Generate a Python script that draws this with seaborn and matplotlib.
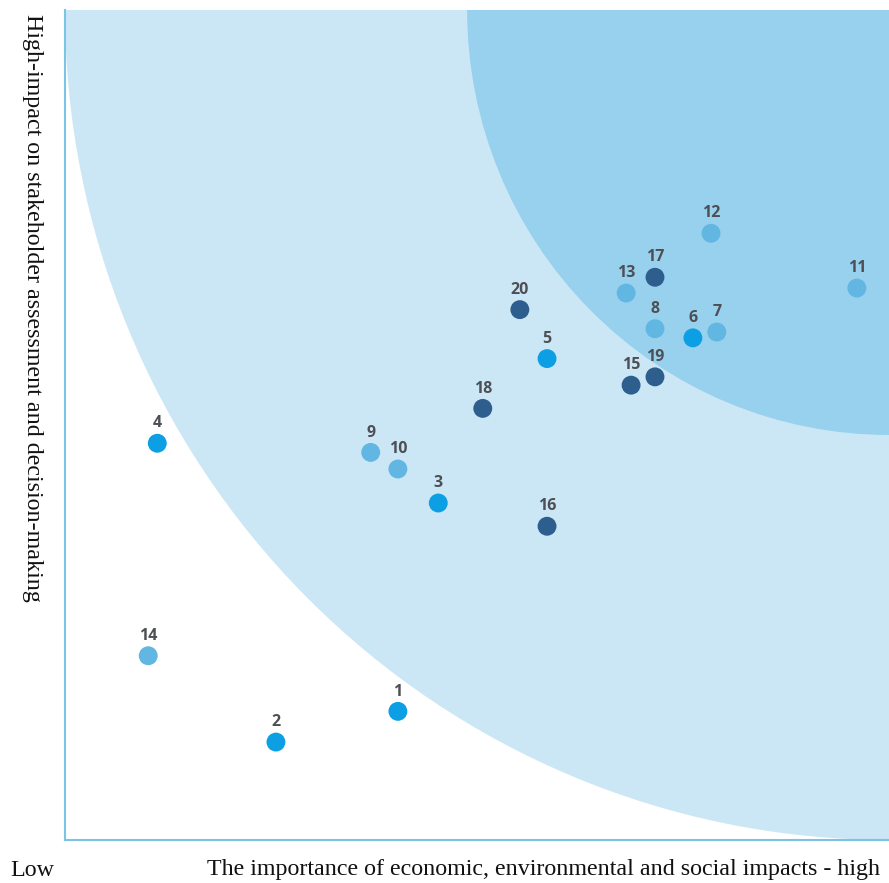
import matplotlib
matplotlib.use("Agg")
import matplotlib.pyplot as plt
from matplotlib.patches import Ellipse
import seaborn as sns
import pandas as pd

ids = [str(i) for i in range(1, 21)]
x_vals = [40.4, 25.6, 45.3, 11.2, 58.5, 76.2, 79.1, 71.6, 37.1, 40.4,
          96.1, 78.4, 68.1, 10.1, 68.7, 58.5, 71.6, 50.7, 71.6, 55.2]
y_vals = [15.5, 11.8, 40.6, 47.8, 58.0, 60.5, 61.2, 61.6, 46.7, 44.7,
          66.5, 73.1, 65.9, 22.2, 54.8, 37.8, 67.8, 52.0, 55.8, 63.9]
groups = ["A", "A", "A", "A", "A", "A", "B", "B", "B", "B",
          "B", "B", "B", "B", "C", "C", "C", "C", "C", "C"]
palette = {"A": "#0c9fe4", "B": "#62b6e2", "C": "#2d5e8e"}

df = pd.DataFrame({"id": ids, "x": x_vals, "y": y_vals, "group": groups})

sns.set_style("white")
fig = plt.figure(figsize=(8.89, 8.83), dpi=100)
ax = fig.add_axes([65/889, 43/883, 824/889, 830/883])

ax.add_patch(Ellipse((100, 100), 200, 200, facecolor="#cbe7f5", edgecolor="none", zorder=0))
ax.add_patch(Ellipse((100, 100), 102.4, 102.4, facecolor="#98d1ed", edgecolor="none", zorder=1))

sns.scatterplot(data=df, x="x", y="y", hue="group", palette=palette, s=185,
                edgecolor="none", legend=False, ax=ax, zorder=3)

for _, r in df.iterrows():
    ax.annotate(r["id"], (r["x"], r["y"]), xytext=(0, 8.5), textcoords="offset points",
                ha="center", va="bottom", fontsize=11.5, fontweight="bold",
                color="#4d4f55", family="Open Sans", zorder=4)

ax.set_xlim(0, 100)
ax.set_ylim(0, 100)
ax.set_xticks([])
ax.set_yticks([])
ax.set_xlabel("")
ax.set_ylabel("")
for side in ["top", "right"]:
    ax.spines[side].set_visible(False)
for side in ["left", "bottom"]:
    ax.spines[side].set_color("#7cc4e6")
    ax.spines[side].set_linewidth(1.5)

serif = ["Liberation Serif", "DejaVu Serif"]
fs = 17.3
fig.text(10/889, 1 - 870/883, "Low", family=serif, fontsize=fs, va="center", ha="left", color="#111111")
fig.text(880/889, 1 - 870/883, "The importance of economic, environmental and social impacts - high",
         family=serif, fontsize=fs, va="center", ha="right", color="#111111")
fig.text(32/889, 1 - 14/883, "High-impact on stakeholder assessment and decision-making",
         family=serif, fontsize=fs, rotation=270, va="top", ha="center", color="#111111")

fig.savefig("out.png", dpi=100)
